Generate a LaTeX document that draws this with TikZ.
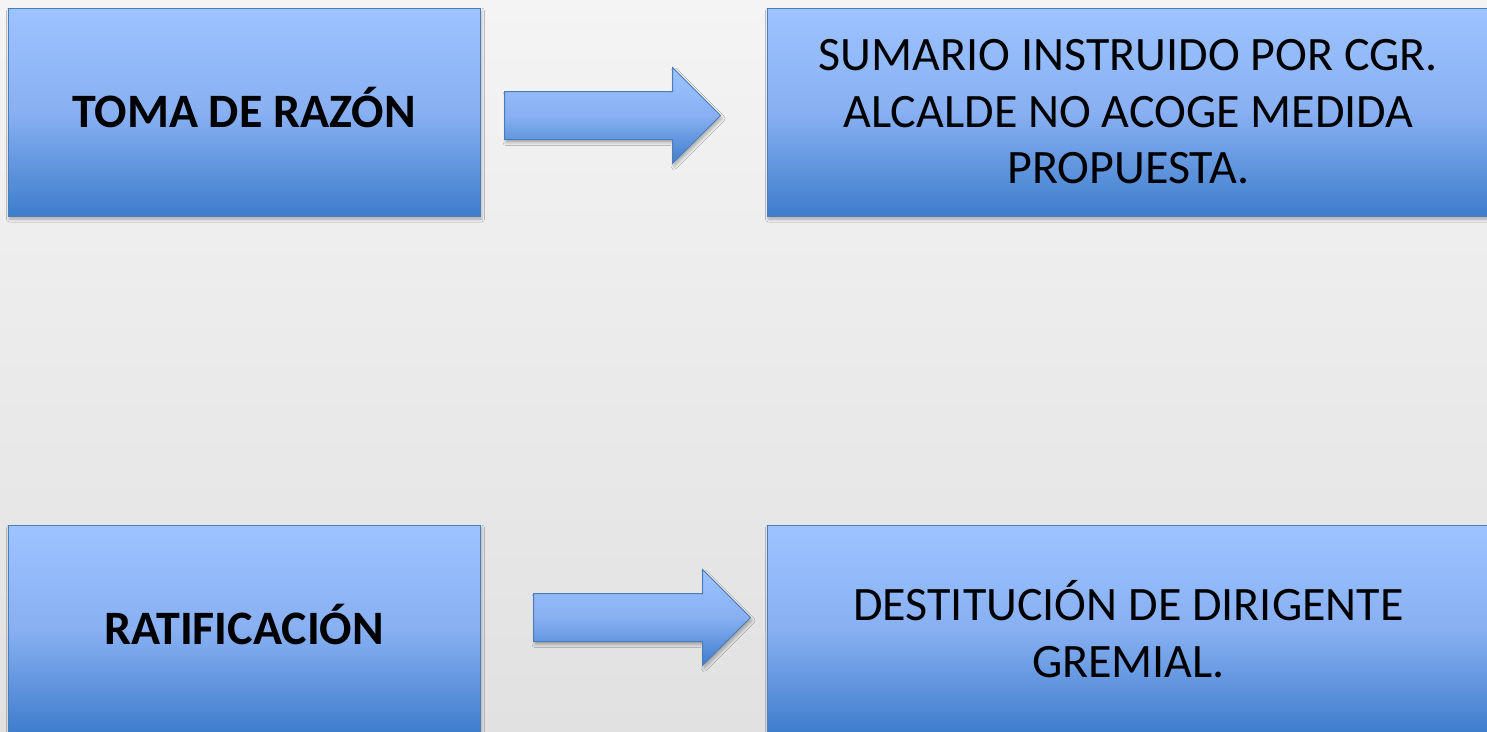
\documentclass[tikz,border=0pt]{standalone}
\usepackage{fontspec}
\setmainfont{Carlito}
\usepackage{tikz}
\usetikzlibrary{
    positioning,
    calc,
    shadows,
    shadows.blur
}
\definecolor{boxTop}{RGB}{157, 195, 255}
\definecolor{boxMid}{RGB}{136, 176, 242}
\definecolor{boxBottom}{RGB}{62, 125, 204}
\definecolor{boxLine}{RGB}{74, 126, 187}
\definecolor{bgTop}{RGB}{244, 244, 244}
\definecolor{bgBottom}{RGB}{225, 225, 225}

\newcommand{\flecha}[2]{%
    \draw[flecha] let \p1=(#1), \p2=(#2) in
        (\x1,\y1+24pt) -- (\x2-48pt,\y1+24pt) -- (\x2-48pt,\y1+48pt) -- (\x2,\y1)
        -- (\x2-48pt,\y1-48pt) -- (\x2-48pt,\y1-24pt) -- (\x1,\y1-24pt) -- cycle;}

\begin{document}
\begin{tikzpicture}[x=1pt, y=1pt,
    caja/.style={draw=boxLine, line width=1pt, rectangle, align=center,
        top color=boxTop, bottom color=boxBottom, middle color=boxMid,
        blur shadow={shadow xshift=1.5pt, shadow yshift=-3pt, shadow blur radius=3pt, shadow opacity=30},
        font=\fontsize{48}{56.5}\selectfont, minimum height=208pt, inner sep=0pt},
    negrita/.style={font=\fontsize{48}{56.5}\selectfont\bfseries, text height=30pt, text depth=0pt},
    flecha/.style={draw=boxLine, line width=1pt, line join=miter,
        top color=boxTop, bottom color=boxBottom, middle color=boxMid,
        blur shadow={shadow xshift=1.5pt, shadow yshift=-3pt, shadow blur radius=3pt, shadow opacity=30}}]

    \useasboundingbox (0,0) rectangle (1487,-731);
    \fill[top color=bgTop, bottom color=bgBottom] (0,0) rectangle (1487,-731);

    % cajas de arriba
    \node[caja, negrita, minimum width=472pt] (toma) at (244,-112) {TOMA DE RAZÓN};
    \node[caja, minimum width=723pt] (sumario) at (1128.5,-112)
        {SUMARIO INSTRUIDO POR CGR.\\ALCALDE NO ACOGE MEDIDA\\PROPUESTA.};

    % cajas de abajo
    \node[caja, negrita, minimum width=472pt] (ratif) at (244,-629) {RATIFICACIÓN};
    \node[caja, minimum width=723pt] (destit) at (1128.5,-629)
        {DESTITUCIÓN DE DIRIGENTE\\GREMIAL.};

    % flechas
    \coordinate (f1a) at ($(toma.east)+(24,-3.5)$);
    \coordinate (f1b) at ($(sumario.west)+(-46,-3.5)$);
    \coordinate (f2a) at ($(ratif.east)+(53,11.5)$);
    \coordinate (f2b) at ($(destit.west)+(-16,11.5)$);
    \flecha{f1a}{f1b}
    \flecha{f2a}{f2b}
\end{tikzpicture}
\end{document}
